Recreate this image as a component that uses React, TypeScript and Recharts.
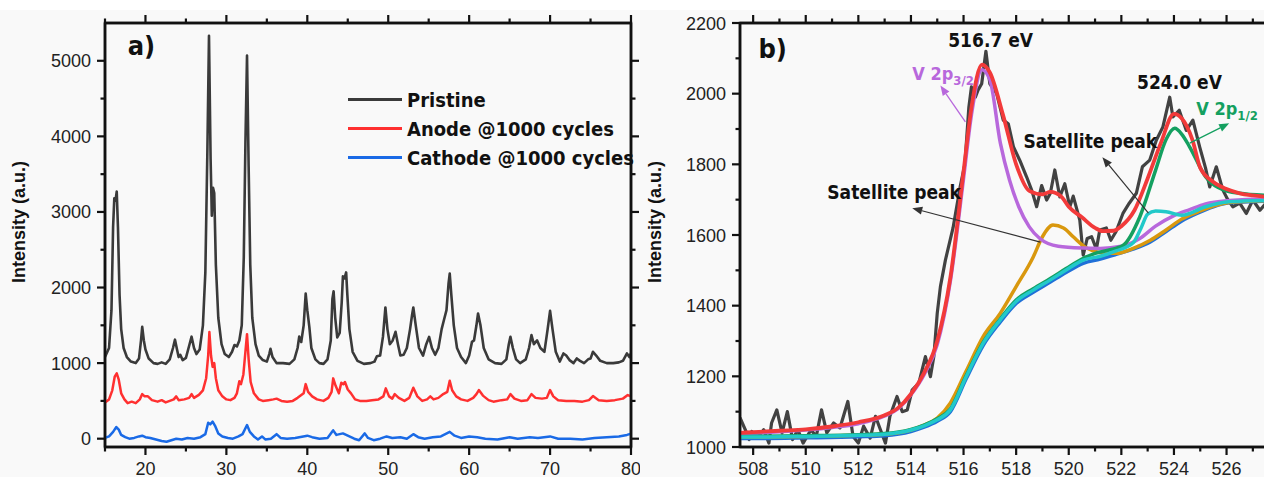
import * as React from "react"
import {
  Legend,
  Line,
  LineChart,
  ReferenceArea,
  ReferenceDot,
  ReferenceLine,
  XAxis,
  YAxis,
} from "recharts"

// ---- panel a) XRD patterns, [2theta, intensity] ----
const pristine: number[][] = [
  [15, 1080], [15.5, 1200], [15.8, 1700], [16.0, 2800], [16.15, 3180], [16.3, 3150], [16.45, 3270],
  [16.6, 2800], [16.8, 1900], [17.0, 1450], [17.3, 1200], [17.7, 1080], [18.2, 1020], [18.8, 1000],
  [19.2, 1060], [19.45, 1300], [19.6, 1480], [19.8, 1300], [20.0, 1180], [20.4, 1060], [21, 1000],
  [21.5, 990], [22, 1010], [22.5, 990], [23.0, 1050], [23.4, 1200], [23.65, 1310], [23.9, 1180],
  [24.1, 1080], [24.3, 1110], [24.6, 1040], [25.0, 1070], [25.4, 1230], [25.7, 1350], [26.0, 1200],
  [26.3, 1120], [26.7, 1180], [27.1, 1500], [27.4, 2200], [27.65, 3800], [27.85, 5330], [28.05, 3700],
  [28.2, 2950], [28.35, 3320], [28.5, 3250], [28.7, 2300], [29.0, 1600], [29.4, 1250], [29.8, 1120],
  [30.3, 1080], [30.7, 1150], [31.0, 1240], [31.3, 1220], [31.6, 1300], [31.9, 1500], [32.15, 2400],
  [32.35, 3900], [32.55, 5070], [32.75, 3600], [32.95, 2300], [33.2, 1600], [33.6, 1250], [34.0, 1100],
  [34.5, 1040], [35.0, 1020], [35.3, 1120], [35.45, 1190], [35.7, 1080], [36.2, 1000], [37, 1000],
  [37.8, 990], [38.4, 1050], [38.8, 1200], [39.0, 1350], [39.25, 1280], [39.55, 1500], [39.8, 1920],
  [40.0, 1700], [40.25, 1480], [40.5, 1200], [41.0, 1050], [41.5, 1000], [42.0, 990], [42.5, 1050],
  [42.9, 1300], [43.1, 1850], [43.25, 1950], [43.45, 1600], [43.7, 1340], [44.0, 1400], [44.25, 1800],
  [44.4, 2150], [44.6, 2120], [44.8, 2200], [44.95, 1900], [45.2, 1450], [45.6, 1150], [46.2, 1030],
  [47.0, 990], [47.8, 1000], [48.3, 1020], [48.6, 1090], [49.0, 1100], [49.35, 1350], [49.65, 1736],
  [49.9, 1450], [50.2, 1250], [50.55, 1300], [50.9, 1414], [51.2, 1250], [51.5, 1100], [51.9, 1110],
  [52.3, 1200], [52.7, 1450], [52.95, 1640], [53.1, 1736], [53.4, 1500], [53.8, 1200], [54.3, 1100],
  [54.7, 1250], [55.05, 1347], [55.4, 1200], [55.8, 1110], [56.2, 1200], [56.6, 1450], [56.9, 1577],
  [57.2, 1700], [57.45, 2050], [57.6, 2185], [57.8, 1900], [58.1, 1500], [58.5, 1200], [59.0, 1080],
  [59.6, 1000], [60.0, 1100], [60.35, 1281], [60.6, 1300], [60.9, 1500], [61.1, 1656], [61.4, 1500],
  [61.8, 1200], [62.4, 1050], [63.2, 1000], [64.0, 990], [64.6, 1050], [64.9, 1250], [65.1, 1347],
  [65.4, 1200], [65.8, 1050], [66.3, 1000], [67.0, 1050], [67.4, 1200], [67.7, 1370], [68.0, 1250],
  [68.4, 1300], [68.8, 1200], [69.3, 1150], [69.7, 1450], [70.0, 1691], [70.3, 1450], [70.7, 1150],
  [71.2, 1020], [71.65, 1128], [72.0, 1100], [72.4, 1040], [72.9, 1000], [73.3, 1062], [73.7, 1030],
  [74.2, 1000], [74.7, 1050], [75.0, 1060], [75.3, 1150], [75.7, 1100], [76.2, 1030], [77.0, 1000],
  [77.8, 1000], [78.5, 1010], [79.0, 1030], [79.5, 1128], [79.8, 1080], [80, 1130],
]

const anode: number[][] = [
  [15, 480], [15.5, 520], [15.9, 640], [16.2, 820], [16.45, 864], [16.7, 780], [17.0, 600], [17.4, 520],
  [17.8, 470], [18.3, 490], [18.8, 470], [19.3, 520], [19.6, 590], [19.9, 560], [20.3, 560], [20.8, 510],
  [21.5, 490], [22.0, 510], [22.5, 480], [23.0, 500], [23.5, 520], [23.8, 560], [24.1, 510], [24.8, 520],
  [25.4, 540], [25.7, 590], [26.0, 540], [26.6, 580], [27.1, 640], [27.5, 800], [27.75, 1100], [27.9, 1410],
  [28.1, 1100], [28.3, 950], [28.5, 1000], [28.7, 800], [29.0, 640], [29.5, 560], [30.0, 520], [30.5, 510],
  [31.0, 540], [31.3, 600], [31.6, 760], [31.8, 720], [32.1, 850], [32.35, 1150], [32.55, 1383],
  [32.75, 1050], [33.0, 750], [33.4, 600], [34.0, 520], [34.5, 500], [35.2, 510], [35.8, 520], [36.2, 530],
  [36.8, 500], [37.5, 490], [38.2, 500], [38.8, 540], [39.3, 580], [39.55, 600], [39.8, 722], [40.1, 620],
  [40.6, 560], [41.2, 520], [42.0, 500], [42.6, 540], [43.0, 620], [43.2, 798], [43.5, 700], [43.9, 600],
  [44.2, 740], [44.45, 720], [44.65, 750], [45.0, 650], [45.4, 600], [45.9, 520], [46.5, 500], [47.3, 500],
  [48.0, 510], [48.8, 520], [49.4, 560], [49.7, 666], [50.1, 560], [50.5, 530], [50.8, 590], [51.3, 540],
  [52.0, 500], [52.6, 540], [53.1, 674], [53.6, 560], [54.2, 500], [54.8, 520], [55.2, 560], [55.6, 520],
  [56.2, 540], [56.8, 590], [57.3, 620], [57.6, 766], [57.9, 640], [58.4, 560], [59.0, 520], [59.8, 500],
  [60.5, 540], [60.9, 590], [61.2, 643], [61.7, 570], [62.4, 510], [63.0, 490], [64.0, 510], [64.7, 520],
  [65.1, 590], [65.6, 530], [66.4, 500], [67.2, 510], [67.7, 590], [68.2, 540], [69.0, 530], [69.6, 540],
  [70.0, 643], [70.4, 560], [71.0, 510], [72.0, 500], [73.0, 500], [74.0, 490], [74.8, 510], [75.3, 564],
  [76.0, 510], [77.0, 500], [78.0, 510], [79.0, 530], [79.6, 577], [80, 560],
]

const cathode: number[][] = [
  [15, 10], [15.5, 30], [16.0, 90], [16.4, 155], [16.7, 120], [17.0, 50], [17.5, 20], [18.0, 0],
  [18.6, 10], [19.2, 30], [19.6, 40], [20.0, 20], [20.6, 10], [21.3, -10], [22.0, -30], [22.6, -40],
  [23.2, -20], [23.8, 0], [24.5, -10], [25.2, 10], [26.0, 0], [26.8, 20], [27.4, 60], [27.75, 210],
  [28.0, 190], [28.3, 225], [28.6, 170], [29.0, 70], [29.5, 30], [30.2, 10], [30.8, 0], [31.5, 30],
  [32.0, 60], [32.55, 181], [32.9, 90], [33.4, 30], [33.9, -10], [34.4, 30], [34.8, -10], [35.5, 0],
  [36.2, 60], [36.7, 10], [37.5, 0], [38.5, 10], [39.5, 30], [40.0, 40], [40.6, 20], [41.5, 0],
  [42.5, 10], [43.2, 110], [43.6, 50], [44.4, 70], [45.0, 40], [45.8, 0], [46.4, -20], [47.1, 70],
  [47.5, 10], [48.2, -20], [49.0, 0], [49.8, 30], [50.5, 10], [51.5, 20], [52.3, 0], [53.1, 60],
  [53.7, 20], [54.5, 0], [55.5, 20], [56.5, 30], [57.6, 90], [58.2, 40], [59.0, 10], [60.0, 30],
  [61.0, 20], [62.0, 0], [63.5, -10], [65.0, 20], [66.0, 0], [67.5, 20], [68.5, 10], [70.0, 30],
  [71.0, 0], [72.5, 0], [74.0, -10], [75.5, 10], [77.0, 20], [78.5, 30], [79.5, 50], [80, 65],
]

const xrdSeriesNames = ["Pristine", "Anode @1000 cycles", "Cathode @1000 cycles"]
const xrdTicksX = [15, 20, 25, 30, 35, 40, 45, 50, 55, 60, 65, 70, 75, 80]
const xrdTicksY = [0, 500, 1000, 1500, 2000, 2500, 3000, 3500, 4000, 4500, 5000]

// ---- panel b) V 2p XPS, [binding energy, counts] ----
const rawCounts: number[][] = [
  [507.5, 1083], [507.7, 1049], [507.85, 1021], [507.95, 1044], [508.15, 1025], [508.4, 1049],
  [508.6, 1011], [508.7, 1068], [508.9, 1105], [509.1, 1040], [509.3, 1100], [509.5, 1021],
  [509.7, 1049], [509.9, 1011], [510.2, 1049], [510.4, 1030], [510.6, 1105], [510.8, 1040],
  [511.06, 1068], [511.3, 1054], [511.6, 1129], [511.8, 1030], [512.0, 1011], [512.2, 1059],
  [512.45, 1025], [512.65, 1087], [512.84, 1049], [513.03, 1011], [513.2, 1087], [513.47, 1143],
  [513.67, 1100], [513.86, 1105], [514.05, 1162], [514.3, 1181], [514.55, 1256], [514.74, 1199],
  [514.87, 1256], [515.0, 1379], [515.12, 1454], [515.31, 1529], [515.6, 1620], [515.87, 1736],
  [516.05, 1800], [516.2, 1960], [516.3, 2019], [516.45, 1990], [516.55, 2010], [516.69, 2028],
  [516.85, 2120], [517.0, 2028], [517.26, 2000], [517.51, 1925], [517.7, 1915], [517.9, 1849],
  [518.14, 1811], [518.4, 1764], [518.59, 1727], [518.78, 1680], [518.97, 1740], [519.16, 1699],
  [519.3, 1718], [519.47, 1784], [519.66, 1708], [519.85, 1745], [520.04, 1680], [520.17, 1710],
  [520.42, 1642], [520.55, 1543], [520.7, 1590], [520.87, 1595], [521.05, 1560], [521.18, 1614],
  [521.43, 1620], [521.6, 1585], [521.8, 1610], [522.06, 1661], [522.3, 1690], [522.57, 1718],
  [522.8, 1793], [523.08, 1812], [523.33, 1868], [523.58, 1906], [523.84, 1990], [523.96, 1934],
  [524.2, 1953], [524.47, 1896], [524.72, 1925], [524.98, 1849], [525.2, 1790], [525.36, 1736],
  [525.61, 1793], [525.86, 1727], [526.05, 1700], [526.24, 1680], [526.5, 1690], [526.75, 1661],
  [527.0, 1699], [527.27, 1670], [527.5, 1690],
]

const envelope: number[][] = [
  [507.5, 1040], [508, 1042], [509, 1046], [510, 1050], [511, 1058], [512, 1070], [513, 1090],
  [513.5, 1110], [514, 1150], [514.5, 1210], [515, 1300], [515.5, 1480], [516, 1780], [516.3, 1960],
  [516.7, 2082], [517, 2060], [517.5, 1940], [518, 1800], [518.5, 1725], [519, 1715], [519.3, 1722],
  [519.7, 1710], [520, 1680], [520.5, 1650], [521, 1620], [521.3, 1611], [521.7, 1612], [522, 1625],
  [522.5, 1670], [523, 1760], [523.5, 1860], [524, 1943], [524.3, 1930], [524.7, 1870], [525, 1790],
  [525.5, 1750], [526, 1730], [526.5, 1718], [527, 1712], [527.5, 1708],
]

const v2p32: number[][] = [
  [507.5, 1036], [508, 1038], [509, 1043], [510, 1048], [511, 1055], [512, 1066], [513, 1088],
  [513.5, 1108], [514, 1148], [514.5, 1205], [515, 1290], [515.5, 1470], [516, 1760], [516.3, 1940],
  [516.7, 2068], [517, 2040], [517.4, 1860], [517.75, 1755], [518.1, 1680], [518.5, 1623],
  [518.9, 1590], [519.6, 1568], [520.5, 1563], [521.2, 1562], [522, 1568], [522.7, 1590],
  [523.3, 1625], [524, 1655], [524.6, 1672], [525.2, 1688], [526, 1697], [527.5, 1702],
]

const v2p12: number[][] = [
  [507.5, 1030], [510, 1032], [512, 1035], [513, 1038], [514, 1050], [514.5, 1062], [515, 1080],
  [515.5, 1108], [516.1, 1202], [516.75, 1297], [517.4, 1363], [518, 1416], [518.65, 1448],
  [519.3, 1477], [519.9, 1505], [520.5, 1532], [521, 1548], [521.5, 1557], [522.06, 1570],
  [522.7, 1651], [523.3, 1783], [523.7, 1870], [524.03, 1902], [524.3, 1885], [524.6, 1849],
  [525.2, 1765], [525.9, 1727], [526.5, 1718], [527.5, 1712],
]

const satellite: number[][] = [
  [507.5, 1028], [510, 1030], [512, 1033], [513, 1036], [514, 1048], [514.5, 1062], [515, 1082],
  [515.5, 1125], [516.1, 1215], [516.75, 1313], [517.4, 1379], [518.0, 1454], [518.65, 1538],
  [519.0, 1595], [519.4, 1628], [519.8, 1620], [520.17, 1595], [520.6, 1567], [521.2, 1550],
  [521.8, 1548], [522.45, 1562], [523.1, 1585], [523.7, 1614], [524.3, 1645], [524.9, 1665],
  [525.5, 1682], [526.1, 1692], [527.5, 1697],
]

const satelliteB: number[][] = [
  [507.5, 1028], [508, 1028], [510, 1030], [512, 1033], [513, 1036], [514, 1048], [514.5, 1060],
  [515, 1077], [515.5, 1105], [516.1, 1199], [516.75, 1294], [517.4, 1360], [518, 1412],
  [518.65, 1444], [519.3, 1473], [519.9, 1501], [520.55, 1529], [521.2, 1540], [521.8, 1555],
  [522.45, 1578], [522.75, 1620], [523.0, 1659], [523.3, 1668], [523.7, 1666], [524.3, 1656],
  [525.2, 1680], [526.1, 1694], [527.5, 1698],
]

const background: number[][] = [
  [507.5, 1024], [508, 1024], [510, 1026], [512, 1029], [513, 1032], [514, 1044], [514.5, 1056],
  [515, 1073], [515.5, 1100], [516.1, 1193], [516.75, 1288], [517.4, 1354], [518, 1406],
  [518.65, 1438], [519.3, 1467], [519.9, 1494], [520.55, 1520], [521.2, 1532], [521.8, 1545],
  [522.45, 1560], [523.1, 1580], [523.7, 1610], [524.3, 1640], [524.9, 1662], [525.5, 1680],
  [526.1, 1691], [527.5, 1696],
]

const xpsTicksX = [508, 509, 510, 511, 512, 513, 514, 515, 516, 517, 518, 519, 520, 521, 522, 523, 524, 525, 526, 527]
const xpsTicksY = [1000, 1100, 1200, 1300, 1400, 1500, 1600, 1700, 1800, 1900, 2000, 2100, 2200]

const toPoints = (rows: number[][]) => rows.map(([x, y]) => ({ x, y }))

const NUM_FONT = '"Liberation Sans", Arial, sans-serif'
const NOTE_FONT = '"Liberation Sans Narrow", "DejaVu Sans Condensed", "Liberation Sans", sans-serif'
const INK = "#111"

// one tick component for every side, major ticks longer and labelled
const makeTick =
  (side: "bottom" | "top" | "left" | "right", isMajor: (v: number) => boolean, showLabel: boolean) =>
  (props: any) => {
    const { x, y, payload } = props
    const major = isMajor(payload.value)
    const len = major ? 8 : 4.5
    let x2 = x
    let y2 = y
    if (side === "bottom") y2 = y + len
    if (side === "top") y2 = y - len
    if (side === "left") x2 = x - len
    if (side === "right") x2 = x + len
    return (
      <g>
        <line x1={x} y1={y} x2={x2} y2={y2} stroke={INK} strokeWidth={2.2} />
        {showLabel && major && side === "bottom" && (
          <text x={x} y={y + 27.5} textAnchor="middle" fontFamily={NUM_FONT} fontSize={18} fill="#222">
            {payload.value}
          </text>
        )}
        {showLabel && major && side === "left" && (
          <text x={x - 14} y={y} dy={6.5} textAnchor="end" fontFamily={NUM_FONT} fontSize={18} fill="#222">
            {payload.value}
          </text>
        )}
      </g>
    )
  }

const axisTitle = (props: any) => {
  const { viewBox } = props
  const cx = viewBox.x + 19
  const cy = viewBox.y + viewBox.height / 2 - 13
  return (
    <text
      x={cx}
      y={cy}
      transform={`rotate(-90, ${cx}, ${cy})`}
      textAnchor="middle"
      dominantBaseline="central"
      fontFamily={NUM_FONT}
      fontWeight="bold"
      fontSize={18}
      fill={INK}
    >
      Intensity (a.u.)
    </text>
  )
}

const note =
  (text: React.ReactNode, color: string, size: number, anchor = "start") =>
  (props: any) => (
    <text
      x={props.cx}
      y={props.cy}
      textAnchor={anchor}
      fontFamily={NOTE_FONT}
      fontWeight="bold"
      fontSize={size}
      fill={color}
    >
      {text}
    </text>
  )

const arrow = (color: string, width: number) => (props: any) => {
  const { x1, y1, x2, y2 } = props
  const a = Math.atan2(y2 - y1, x2 - x1)
  const hl = 10
  const hw = 4
  const bx = x2 - hl * Math.cos(a)
  const by = y2 - hl * Math.sin(a)
  const px = -Math.sin(a) * hw
  const py = Math.cos(a) * hw
  return (
    <g>
      <line x1={x1} y1={y1} x2={bx} y2={by} stroke={color} strokeWidth={width} />
      <polygon points={`${x2},${y2} ${bx + px},${by + py} ${bx - px},${by - py}`} fill={color} />
    </g>
  )
}

const legendContent = ({ payload }: any) => {
  const items = [...(payload ?? [])].sort(
    (a: any, b: any) => xrdSeriesNames.indexOf(a.value) - xrdSeriesNames.indexOf(b.value)
  )
  return (
    <div style={{ display: "flex", flexDirection: "column" }}>
      {items.map((entry: any, i: number) => (
        <div key={i} style={{ display: "flex", alignItems: "center", height: 29, whiteSpace: "nowrap" }}>
          <div style={{ width: 54, height: 2.5, background: entry.color, marginRight: 5, flexShrink: 0 }} />
          <span style={{ fontFamily: NOTE_FONT, fontWeight: "bold", fontSize: 20, color: INK }}>{entry.value}</span>
        </div>
      ))}
    </div>
  )
}

const frame = { fill: "none", fillOpacity: 0, stroke: INK, strokeWidth: 2.5 }
const axisStroke = { stroke: INK, strokeWidth: 2.5 }

function XrdPanel() {
  const isMajorX = (v: number) => v % 10 === 0
  const isMajorY = (v: number) => v % 1000 === 0
  const common = { type: "number" as const, interval: 0 as const, allowDataOverflow: true, tickSize: 0, tickMargin: 0, tickLine: false, axisLine: axisStroke }
  return (
    <LineChart width={640} height={477} margin={{ top: 22, right: 8, bottom: 0, left: 0 }}>
      <XAxis {...common} dataKey="x" domain={[15, 80]} ticks={xrdTicksX} height={30} tick={makeTick("bottom", isMajorX, true)} />
      <XAxis {...common} xAxisId="top" orientation="top" dataKey="x" domain={[15, 80]} ticks={xrdTicksX} height={1} tick={makeTick("top", isMajorX, false)} />
      <YAxis {...common} domain={[-110, 5500]} ticks={xrdTicksY} width={105} tick={makeTick("left", isMajorY, true)} label={{ content: axisTitle }} />
      <YAxis {...common} yAxisId="right" orientation="right" domain={[-110, 5500]} ticks={xrdTicksY} width={1} tick={makeTick("right", isMajorY, false)} />
      <Legend
        layout="vertical"
        align="center"
        verticalAlign="middle"
        content={legendContent}
        wrapperStyle={{ left: 348, top: 85, width: 300 }}
      />
      <Line data={toPoints(pristine)} dataKey="y" name={xrdSeriesNames[0]} type="linear" stroke="#3a3a3a" strokeWidth={2.6} strokeLinejoin="round" dot={false} isAnimationActive={false} />
      <Line data={toPoints(anode)} dataKey="y" name={xrdSeriesNames[1]} type="linear" stroke="#ff3030" strokeWidth={2.5} strokeLinejoin="round" dot={false} isAnimationActive={false} />
      <Line data={toPoints(cathode)} dataKey="y" name={xrdSeriesNames[2]} type="linear" stroke="#1a6ae6" strokeWidth={2.5} strokeLinejoin="round" dot={false} isAnimationActive={false} />
      <ReferenceArea x1={15} x2={80} y1={-110} y2={5500} {...frame} />
      <ReferenceDot x={17.8} y={5080} r={0} shape={note("a)", INK, 27)} />
    </LineChart>
  )
}

function XpsPanel() {
  const isMajorX = (v: number) => v % 2 === 0
  const isMajorY = (v: number) => v % 200 === 0
  const common = { type: "number" as const, interval: 0 as const, allowDataOverflow: true, tickSize: 0, tickMargin: 0, tickLine: false, axisLine: axisStroke }
  const sub = (main: string, low: string) => (
    <>
      <tspan>{main}</tspan>
      <tspan dy={5} fontSize={13}>{low}</tspan>
    </>
  )
  return (
    <LineChart width={640} height={477} margin={{ top: 22, right: 13, bottom: 0, left: 0 }}>
      <XAxis {...common} dataKey="x" domain={[507.5, 527.5]} ticks={xpsTicksX} height={30} tick={makeTick("bottom", isMajorX, true)} />
      <XAxis {...common} xAxisId="top" orientation="top" dataKey="x" domain={[507.5, 527.5]} ticks={xpsTicksX} height={1} tick={makeTick("top", isMajorX, false)} />
      <YAxis
        {...common}
        domain={[1000, 2200]}
        ticks={xpsTicksY}
        width={100}
        tick={makeTick("left", isMajorY, true)}
        label={{ content: (p: any) => axisTitle({ viewBox: { ...p.viewBox, x: p.viewBox.x - 4 } }) }}
      />
      <YAxis {...common} yAxisId="right" orientation="right" domain={[1000, 2200]} ticks={xpsTicksY} width={1} tick={makeTick("right", isMajorY, false)} />
      <Line data={toPoints(rawCounts)} dataKey="y" type="linear" stroke="#424242" strokeWidth={3.2} strokeLinejoin="round" dot={false} isAnimationActive={false} />
      <Line data={toPoints(background)} dataKey="y" type="monotone" stroke="#2070d8" strokeWidth={3.5} dot={false} isAnimationActive={false} />
      <Line data={toPoints(satellite)} dataKey="y" type="monotone" stroke="#d9980e" strokeWidth={3.5} dot={false} isAnimationActive={false} />
      <Line data={toPoints(v2p32)} dataKey="y" type="monotone" stroke="#b868dc" strokeWidth={3.5} dot={false} isAnimationActive={false} />
      <Line data={toPoints(v2p12)} dataKey="y" type="monotone" stroke="#14a060" strokeWidth={3.5} dot={false} isAnimationActive={false} />
      <Line data={toPoints(satelliteB)} dataKey="y" type="monotone" stroke="#22c9c9" strokeWidth={3.5} dot={false} isAnimationActive={false} />
      <Line data={toPoints(envelope)} dataKey="y" type="monotone" stroke="#f23a3a" strokeWidth={3.8} dot={false} isAnimationActive={false} />
      <ReferenceArea x1={507.5} x2={527.5} y1={1000} y2={2200} {...frame} />

      <ReferenceLine segment={[{ x: 516.07, y: 1920 }, { x: 515.12, y: 2023 }]} shape={arrow("#b868dc", 1.3)} />
      <ReferenceLine segment={[{ x: 524.6, y: 1860 }, { x: 526.1, y: 1916 }]} shape={arrow("#14a060", 1.3)} />
      <ReferenceLine segment={[{ x: 523.03, y: 1662 }, { x: 521.28, y: 1820 }]} shape={arrow("#333", 1.2)} />
      <ReferenceLine segment={[{ x: 518.92, y: 1580 }, { x: 514.05, y: 1676 }]} shape={arrow("#333", 1.2)} />

      <ReferenceDot x={508.2} y={2100} r={0} shape={note("b)", INK, 27)} />
      <ReferenceDot x={517.03} y={2131} r={0} shape={note("516.7 eV", INK, 19, "middle")} />
      <ReferenceDot x={524.21} y={2012} r={0} shape={note("524.0 eV", INK, 19, "middle")} />
      <ReferenceDot x={514.05} y={2040} r={0} shape={note(sub("V 2p", "3/2"), "#b868dc", 18)} />
      <ReferenceDot x={524.85} y={1940} r={0} shape={note(sub("V 2p", "1/2"), "#14a060", 18)} />
      <ReferenceDot x={518.28} y={1845} r={0} shape={note("Satellite peak", INK, 19)} />
      <ReferenceDot x={510.82} y={1701} r={0} shape={note("Satellite peak", INK, 19)} />
    </LineChart>
  )
}

export default function App() {
  return (
    <div style={{ position: "absolute", left: 0, top: 0, width: 1264, height: 477, overflow: "hidden", background: "#fff" }}>
      <div style={{ position: "absolute", left: 0, top: 10, width: 1264, height: 467, background: "#f9f9f9" }} />
      <div style={{ position: "absolute", left: 0, top: 0 }}>
        <XrdPanel />
      </div>
      <div style={{ position: "absolute", left: 640, top: 0 }}>
        <XpsPanel />
      </div>
    </div>
  )
}
